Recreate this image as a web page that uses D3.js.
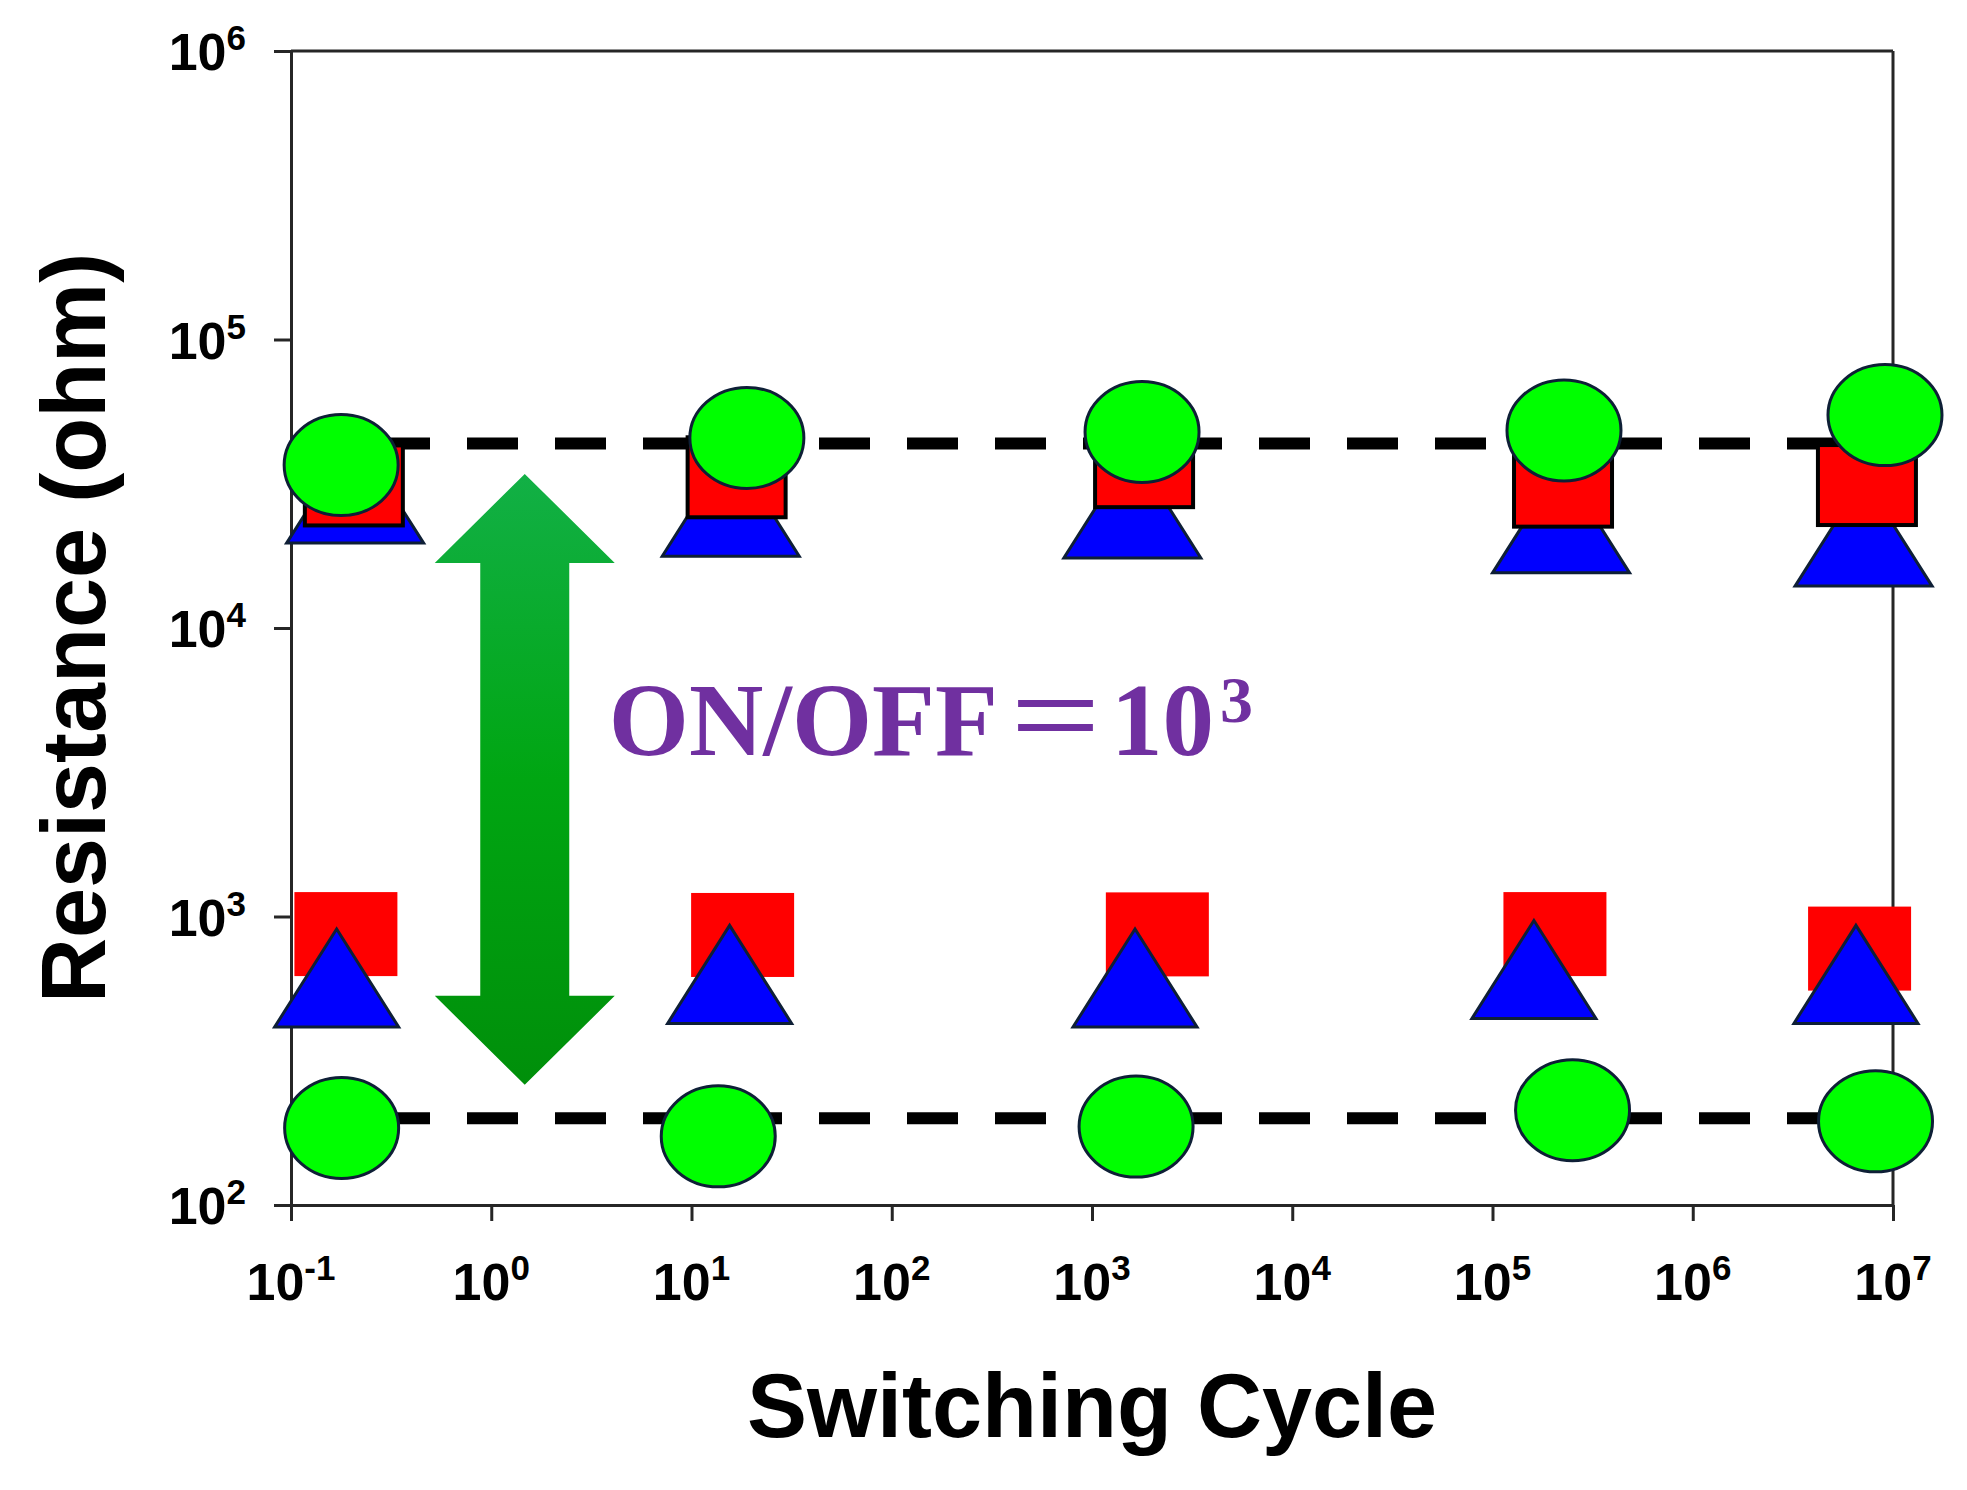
<!DOCTYPE html>
<html><head><meta charset="utf-8">
<script src="https://cdn.jsdelivr.net/npm/d3@7/dist/d3.min.js"></script>
<style>
html,body{margin:0;padding:0;background:#fff;}
svg{display:block;}
</style></head><body>
<svg id="chart" width="1967" height="1490"></svg>
<script>
// ---------------- data ----------------
const xTickExponents = [-1, 0, 1, 2, 3, 4, 5, 6, 7];
const yTickExponents = [2, 3, 4, 5, 6];
const xTitle = "Switching Cycle";
const yTitle = "Resistance (ohm)";

// red squares
const squareHrsCycle = [0.206, 16.8, 1820, 225000, 7.41e6];
const squareHrsOhm   = [31200, 33300, 36100, 30900, 31300];
const squareLrsCycle = [0.188, 18.0, 2120, 205000, 6.81e6];
const squareLrsOhm   = [869, 863, 867, 869, 774];
// blue triangles
const triangleHrsCycle = [0.209, 15.7, 1590, 220000, 7.13e6];
const triangleHrsOhm   = [30300, 27300, 26900, 23900, 21500];
const triangleLrsCycle = [0.169, 15.5, 1640, 161000, 6.53e6];
const triangleLrsOhm   = [612, 630, 612, 655, 630];
// green circles
const circleHrsCycle = [0.178, 18.9, 1778, 227500, 9.12e6];
const circleHrsOhm   = [36700, 45600, 47800, 48400, 54700];
const circleLrsCycle = [0.179, 13.6, 1660, 251000, 8.18e6];
const circleLrsOhm   = [185, 173, 187, 213, 195];

// dashed reference levels
const hrsLevelOhm = 43600;
const lrsLevelOhm = 200;

// annotation
const arrowCycle = 1.47;
const arrowTopOhm = 34200;
const arrowBottomOhm = 261;
const ratioText = "ON/OFF";
const ratioEq = "＝";
const ratioBase = "10";
const ratioExp = "3";
const ratioCycle = 4.0;
const ratioOhm = 3630;

// ---------------- layout ----------------
const L = 291, R = 1893, T = 51, B = 1205;
const svg = d3.select("#chart");
svg.append("rect").attr("width", 1967).attr("height", 1490).attr("fill", "#fff");

const x = d3.scaleLog().domain([0.1, 1e7]).range([L, R]);
const y = d3.scaleLog().domain([100, 1e6]).range([B, T]);

const axisColor = "#262626";
const sans = "'Liberation Sans', Arial, sans-serif";

// dashed level lines
const lineGen = d3.line().x(d => x(d[0])).y(d => y(d[1]));
[hrsLevelOhm, lrsLevelOhm].forEach(lv => {
  svg.append("path")
    .attr("d", lineGen([[0.1, lv], [1e7, lv]]))
    .attr("fill", "none")
    .attr("stroke", "#000")
    .attr("stroke-width", 12)
    .attr("stroke-dasharray", "51,37");
});

// axes
const xAxis = svg.append("g").attr("transform", `translate(0,${B})`)
  .call(d3.axisBottom(x).tickValues(xTickExponents.map(e => Math.pow(10, e)))
    .tickSize(16).tickSizeOuter(0).tickFormat(""));
const yAxis = svg.append("g").attr("transform", `translate(${L},0)`)
  .call(d3.axisLeft(y).tickValues(yTickExponents.map(e => Math.pow(10, e)))
    .tickSize(17).tickSizeOuter(0).tickFormat(""));
[xAxis, yAxis].forEach(g => {
  g.select(".domain").attr("stroke", axisColor).attr("stroke-width", 3);
  g.selectAll(".tick line").attr("stroke", axisColor).attr("stroke-width", 3);
});
// frame top & right
svg.append("line").attr("x1", x(0.1)).attr("x2", x(1e7)).attr("y1", y(1e6)).attr("y2", y(1e6))
  .attr("stroke", axisColor).attr("stroke-width", 3);
svg.append("line").attr("x1", x(1e7)).attr("x2", x(1e7)).attr("y1", y(1e6)).attr("y2", y(100))
  .attr("stroke", axisColor).attr("stroke-width", 3);

// tick labels
const tickFont = 52, supFont = 35;
xTickExponents.forEach(e => {
  const t = svg.append("text")
    .attr("x", x(Math.pow(10, e))).attr("y", B + 95)
    .attr("text-anchor", "middle")
    .attr("font-family", sans).attr("font-weight", "bold")
    .attr("font-size", tickFont).attr("fill", "#000");
  t.append("tspan").text("10");
  t.append("tspan").attr("font-size", supFont).attr("dy", -20).text(String(e));
});
yTickExponents.forEach(e => {
  const t = svg.append("text")
    .attr("x", L - 45).attr("y", y(Math.pow(10, e)) + 19)
    .attr("text-anchor", "end")
    .attr("font-family", sans).attr("font-weight", "bold")
    .attr("font-size", tickFont).attr("fill", "#000");
  t.append("tspan").text("10");
  t.append("tspan").attr("font-size", supFont).attr("dy", -20).text(String(e));
});

// axis titles
svg.append("text")
  .attr("x", (L + R) / 2).attr("y", 1437)
  .attr("text-anchor", "middle")
  .attr("font-family", sans).attr("font-weight", "bold").attr("font-size", 90)
  .attr("fill", "#000").text(xTitle);
svg.append("text")
  .attr("transform", `translate(105,${(T + B) / 2}) rotate(-90)`)
  .attr("text-anchor", "middle")
  .attr("font-family", sans).attr("font-weight", "bold").attr("font-size", 90)
  .attr("fill", "#000").text(yTitle);

// arrow annotation
const defs = svg.append("defs");
const grad = defs.append("linearGradient").attr("id", "arrowGrad")
  .attr("x1", 0).attr("y1", 0).attr("x2", 0).attr("y2", 1);
grad.append("stop").attr("offset", "0%").attr("stop-color", "#12b046");
grad.append("stop").attr("offset", "50%").attr("stop-color", "#00a612");
grad.append("stop").attr("offset", "100%").attr("stop-color", "#008f0a");
{
  const cx = x(arrowCycle), yt = y(arrowTopOhm), yb = y(arrowBottomOhm);
  const hh = 90, sh = 44.5, hl = 89;
  const p = d3.path();
  p.moveTo(cx, yt);
  p.lineTo(cx + hh, yt + hl); p.lineTo(cx + sh, yt + hl);
  p.lineTo(cx + sh, yb - hl); p.lineTo(cx + hh, yb - hl);
  p.lineTo(cx, yb);
  p.lineTo(cx - hh, yb - hl); p.lineTo(cx - sh, yb - hl);
  p.lineTo(cx - sh, yt + hl); p.lineTo(cx - hh, yt + hl);
  p.closePath();
  svg.append("path").attr("d", p.toString()).attr("fill", "url(#arrowGrad)");
}

// ratio text
{
  const t = svg.append("text")
    .attr("x", x(ratioCycle) - 3).attr("y", y(ratioOhm))
    .attr("font-family", "'Liberation Serif', 'Times New Roman', serif")
    .attr("font-weight", "bold").attr("font-size", 103).attr("fill", "#7030a0");
  t.append("tspan").text(ratioText);
  t.append("tspan").attr("font-family", "'Noto Sans CJK SC', sans-serif").attr("font-weight", 400)
    .attr("dx", 6).text(ratioEq);
  t.append("tspan").attr("dx", 4).text(ratioBase);
  t.append("tspan").attr("font-size", 66).attr("dx", 6).attr("dy", -33).text(ratioExp);
}

// markers
const outline = "#0e1f36";
function zip(cs, vs) { return cs.map((c, i) => [c, vs[i]]); }
function triangles(data, w, h) {
  const tri = `M0,${-h / 2}L${w / 2},${h / 2}L${-w / 2},${h / 2}Z`;
  svg.append("g").selectAll("path").data(data).join("path")
    .attr("transform", d => `translate(${x(d[0])},${y(d[1])})`)
    .attr("d", tri).attr("fill", "#0000ff")
    .attr("stroke", outline).attr("stroke-width", 3).attr("stroke-linejoin", "miter");
}
function squares(data, stroked) {
  const w = stroked ? 98 : 103, h = stroked ? 80 : 84;
  svg.append("g").selectAll("rect").data(data).join("rect")
    .attr("x", d => x(d[0]) - w / 2).attr("y", d => y(d[1]) - h / 2)
    .attr("width", w).attr("height", h).attr("fill", "#ff0000")
    .attr("stroke", stroked ? "#000" : "none").attr("stroke-width", stroked ? 4 : 0);
}
function circles(data) {
  svg.append("g").selectAll("ellipse").data(data).join("ellipse")
    .attr("cx", d => x(d[0])).attr("cy", d => y(d[1]))
    .attr("rx", 57).attr("ry", 50.5)
    .attr("fill", "#00ff00").attr("stroke", outline).attr("stroke-width", 3);
}
// high-resistance group
triangles(zip(triangleHrsCycle, triangleHrsOhm), 137, 108);
squares(zip(squareHrsCycle, squareHrsOhm), true);
circles(zip(circleHrsCycle, circleHrsOhm));
// low-resistance group
squares(zip(squareLrsCycle, squareLrsOhm), false);
triangles(zip(triangleLrsCycle, triangleLrsOhm), 124, 98);
circles(zip(circleLrsCycle, circleLrsOhm));
</script>
</body></html>
